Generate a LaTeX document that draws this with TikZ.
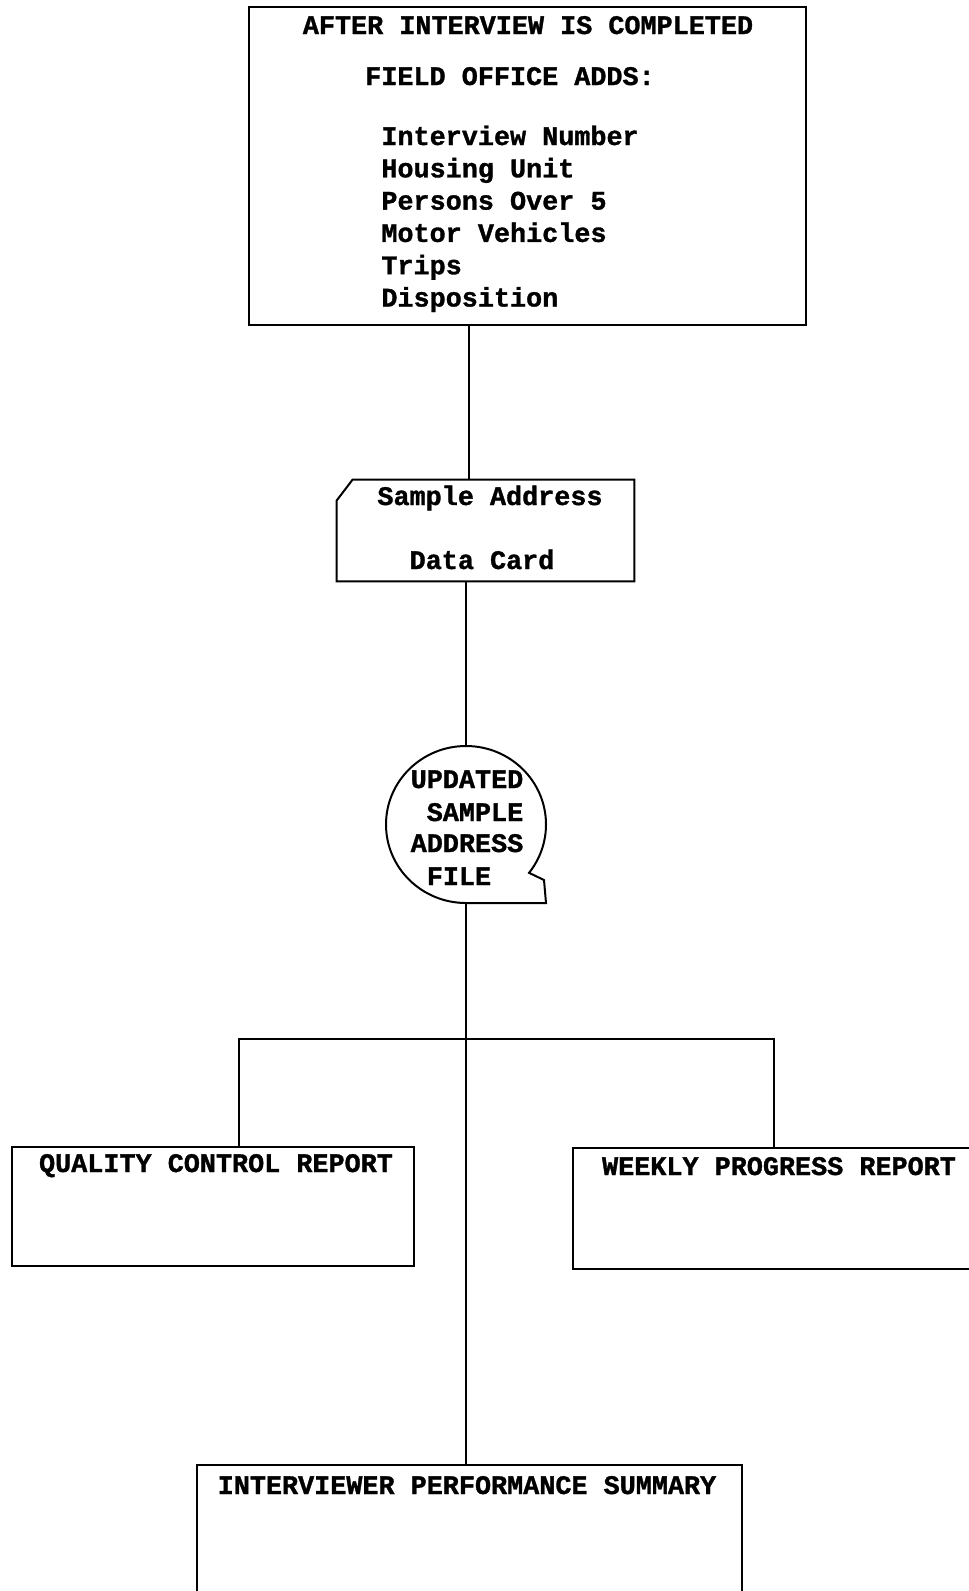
\documentclass[tikz,border=0pt]{standalone}
\usepackage{fontspec}
\setmonofont{Liberation Mono}[BoldFeatures={FakeBold=1.2}]
\usetikzlibrary{positioning,fit}

\tikzset{
  every node/.style={font=\ttfamily\bfseries\fontsize{13.4}{16}\selectfont},
  label/.style={anchor=base, inner sep=0pt},
  box/.style={draw, line width=1pt, inner sep=0pt},
  area/.style={inner sep=0pt},
  link/.style={line width=1pt}
}

\begin{document}
\begin{tikzpicture}[x=0.5pt,y=0.5pt]
    \clip (0,0) rectangle (969,-1591);
    \fill[white] (0,0) rectangle (969,-1591);
    % top box
    \node[box, fit={(249,-7) (806,-325)}] (fieldbox) {};
    \node[label] (aftertitle) at (528,-34) {AFTER INTERVIEW IS COMPLETED};
    \node[label] (fieldtitle) at (510,-85) {FIELD OFFICE ADDS:};
    \foreach \item [count=\i] in {Interview Number, Housing Unit, Persons Over 5, Motor Vehicles, Trips, Disposition}
        \node[label, anchor=base west] (item\i) at (381,{-145-32.3*(\i-1)}) {\item};
    % data card
    \node[area, fit={(337,-480) (634,-581)}] (card) {};
    \draw[link] (card.north west) ++(0,-21) -- ++(16,21) -- (card.north east) -- (card.south east) -- (card.south west) -- cycle;
    \node[label] (cardtop) at (490,-505) {Sample Address};
    \node[label] (cardbottom) at (482,-569) {Data Card};
    % address file
    \node[area, fit={(386,-746) (546,-903)}] (file) {};
    \draw[link] (466,-903) arc[start angle=270, end angle=-38, x radius=80, y radius=78.5] -- (544,-880) -- (546,-903) -- cycle;
    \node[label] (fileA) at (467,-788) {UPDATED};
    \node[label] (fileB) at (475,-821) {SAMPLE};
    \node[label] (fileC) at (467,-852) {ADDRESS};
    \node[label] (fileD) at (459,-885) {FILE};
    % reports
    \node[box, fit={(12,-1147) (414,-1266)}] (qcbox) {};
    \node[label] (qctext) at (216,-1172) {QUALITY CONTROL REPORT};
    \node[box, fit={(573,-1148) (1000,-1269)}] (wpbox) {};
    \node[label] (wptext) at (779,-1175) {WEEKLY PROGRESS REPORT};
    \node[box, fit={(197,-1465) (742,-1620)}] (ipsbox) {};
    \node[label] (ipstext) at (467,-1494) {INTERVIEWER PERFORMANCE SUMMARY};
    % connectors
    \coordinate (topdrop) at (469,-325);
    \coordinate (qcjoin) at (239,-1039);
    \coordinate (wpjoin) at (774,-1039);
    \draw[link] (fieldbox.south -| topdrop) -- (topdrop |- card.north);
    \draw[link] (card.south -| file.north) -- (file.north);
    \draw[link] (file.south) -- (file.south |- ipsbox.north);
    \draw[link] (qcbox.north -| qcjoin) -- (qcjoin) -- (wpjoin) -- (wpbox.north -| wpjoin);
\end{tikzpicture}
\end{document}
